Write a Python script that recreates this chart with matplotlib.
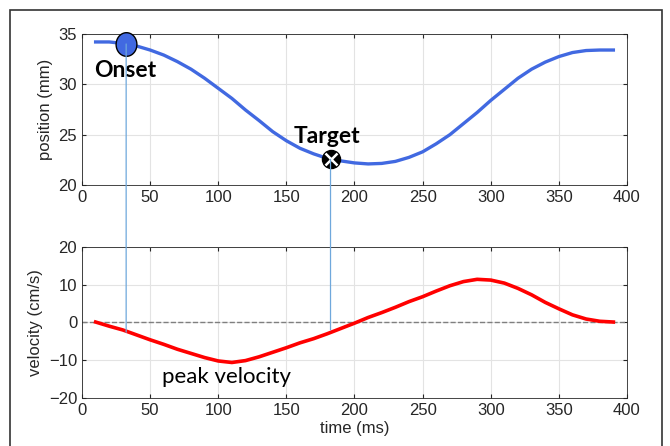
import matplotlib
matplotlib.use("Agg")
import matplotlib.pyplot as plt
import numpy as np
from matplotlib.patches import ConnectionPatch, Rectangle
from matplotlib.path import Path

plt.rcParams["font.family"] = ["Liberation Sans", "DejaVu Sans"]

# position trace (mm), read every 10 ms
pos_t = [10, 20, 30, 40, 50, 60, 70, 80, 90, 100, 110, 120, 130, 140, 150,
         160, 170, 180, 190, 200, 210, 220, 230, 240, 250, 260, 270, 280,
         290, 300, 310, 320, 330, 340, 350, 360, 370, 380, 390]
pos_mm = [34.2, 34.2, 34.05, 33.8, 33.4, 32.9, 32.25, 31.5, 30.6, 29.6,
          28.6, 27.45, 26.4, 25.3, 24.4, 23.65, 23.1, 22.65, 22.4, 22.2,
          22.1, 22.15, 22.35, 22.75, 23.3, 24.1, 25.0, 26.1, 27.2, 28.4, 29.5,
          30.6, 31.5, 32.2, 32.75, 33.15, 33.35, 33.4, 33.4]

# velocity trace (cm/s), read every 10 ms
vel_t = pos_t
vel_cms = [0.1, -1.0, -2.0, -3.3, -4.6, -5.8, -7.1, -8.2, -9.3, -10.2,
           -10.6, -10.1, -9.1, -7.9, -6.7, -5.4, -4.3, -3.0, -1.6, -0.2,
           1.3, 2.6, 4.0, 5.5, 6.8, 8.3, 9.7, 10.8, 11.4, 11.2, 10.4, 9.0,
           7.3, 5.3, 3.6, 2.0, 0.9, 0.3, 0.1]

onset = (32.4, 34.0)
target = (182.4, 22.55)
onset_vel = -2.6
target_vel = -2.0

xticks = [0, 50, 100, 150, 200, 250, 300, 350, 400]

# slightly tall ellipse for the onset marker
theta = np.linspace(0, 2 * np.pi, 60)
ellipse = Path(np.column_stack([0.88 * np.cos(theta), np.sin(theta)]), closed=True)

fig = plt.figure(figsize=(6.7, 4.46), dpi=100)
ax1 = fig.add_axes([0.1224, 0.585, 0.8134, 0.339])
ax2 = fig.add_axes([0.1224, 0.1076, 0.8134, 0.339])

for ax in (ax1, ax2):
    ax.set_xlim(0, 400)
    ax.set_xticks(xticks)
    ax.grid(True, color="#e3e3e3", linewidth=0.8)
    ax.set_axisbelow(True)
    ax.tick_params(direction="in", length=3, colors="#262626", labelsize=12,
                   top=True, right=True)
    for s in ax.spines.values():
        s.set_color("#262626")
        s.set_linewidth(0.6)

ax1.plot(pos_t, pos_mm, color="#4169e1", linewidth=2.4)
ax1.set_ylim(20, 35)
ax1.set_yticks([20, 25, 30, 35])
ax1.set_ylabel("position (mm)", fontsize=12, color="#262626")

ax1.plot(*onset, marker=ellipse, markersize=17, markerfacecolor="#4169e1",
         markeredgecolor="black", markeredgewidth=1.0, zorder=5, clip_on=False)
ax1.plot(*target, "o", markersize=13, markerfacecolor="black",
         markeredgecolor="black", zorder=5)
ax1.plot(*target, "x", markersize=8, markeredgecolor="white",
         markeredgewidth=1.8, zorder=6)
ax1.text(32, 31.4, "Onset", fontsize=16.5, fontweight="bold",
         family="Lato", ha="center", va="center")
ax1.text(180, 24.8, "Target", fontsize=16.5, fontweight="bold",
         family="Lato", ha="center", va="center")

ax2.axhline(0, color="#7f7f7f", linestyle="--", linewidth=1.0)
ax2.plot(vel_t, vel_cms, color="#ff0000", linewidth=2.6)
ax2.set_ylim(-20, 20)
ax2.set_yticks([-20, -10, 0, 10, 20])
ax2.set_ylabel("velocity (cm/s)", fontsize=12, color="#262626")
ax2.set_xlabel("time (ms)", fontsize=12, color="#262626", labelpad=2)
ax2.text(105.7, -16.0, "peak velocity", fontsize=16, family="Lato",
         ha="center", va="baseline")

for (t, y), v in ((onset, onset_vel), (target, target_vel)):
    con = ConnectionPatch(xyA=(t, y), coordsA=ax1.transData,
                          xyB=(t, v), coordsB=ax2.transData,
                          color="#6fa8dc", linewidth=0.9, zorder=1)
    fig.add_artist(con)

fig.add_artist(Rectangle((10 / 670, -0.05), 652 / 670, 1.05 - 10 / 446,
                         transform=fig.transFigure, fill=False,
                         edgecolor="#333333", linewidth=1.2))

fig.savefig("out.png", dpi=100)
